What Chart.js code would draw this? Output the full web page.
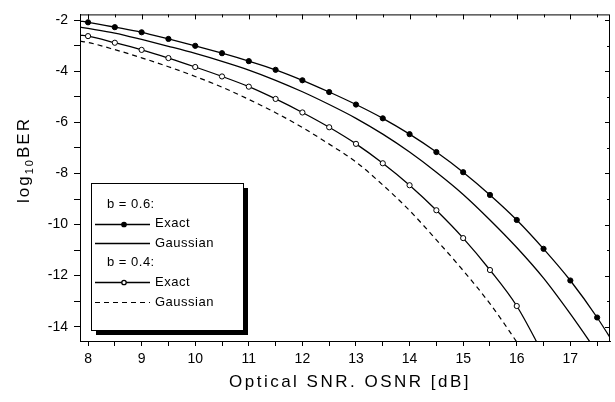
<!DOCTYPE html>
<html>
<head>
<meta charset="utf-8">
<script src="https://cdn.jsdelivr.net/npm/chart.js@4"></script>
<style>
  html, body { margin: 0; padding: 0; background: #fff; }
  canvas { display: block; }
</style>
</head>
<body>
<canvas id="berChart" width="615" height="402"></canvas>
<script>
// OSNR values (dB); first point is the left edge of the plot
const osnrDb = [7.85, 8, 8.5, 9, 9.5, 10, 10.5, 11, 11.5, 12, 12.5, 13, 13.5, 14, 14.5, 15, 15.5, 16, 16.5, 17, 17.5, 18];

// log10 BER, b = 0.6
const exact06 = [-2.03, -2.08, -2.27, -2.47, -2.73, -3.0, -3.29, -3.6, -3.94, -4.35, -4.81, -5.3, -5.84, -6.46, -7.16, -7.95, -8.84, -9.82, -10.95, -12.19, -13.64, -15.3];
const gauss06 = [-2.27, -2.32, -2.5, -2.75, -3.02, -3.3, -3.61, -3.95, -4.35, -4.8, -5.3, -5.84, -6.46, -7.16, -7.95, -8.82, -9.82, -10.9, -12.1, -13.5, -15.0, null];

// log10 BER, b = 0.4
const exact04 = [-2.58, -2.62, -2.88, -3.16, -3.48, -3.83, -4.2, -4.6, -5.08, -5.61, -6.19, -6.84, -7.6, -8.46, -9.44, -10.53, -11.78, -13.19, -15.1, null, null, null];
const gauss04 = [-2.82, -2.87, -3.15, -3.47, -3.82, -4.2, -4.62, -5.1, -5.62, -6.2, -6.85, -7.55, -8.45, -9.45, -10.6, -11.8, -13.1, -14.6, -16.2, null, null, null];

const xTicks = [8, 9, 10, 11, 12, 13, 14, 15, 16, 17];
const yTicks = [-2, -4, -6, -8, -10, -12, -14];

const xTitle = 'Optical SNR. OSNR [dB]';
const legendRows = [
  { header: 'b = 0.6:' },
  { label: 'Exact', ds: 0 },
  { label: 'Gaussian', ds: 1 },
  { header: 'b = 0.4:' },
  { label: 'Exact', ds: 2 },
  { label: 'Gaussian', ds: 3 }
];

const FONT = "'Liberation Sans', Arial, sans-serif";
Chart.defaults.font.family = FONT;
Chart.defaults.font.size = 13;
Chart.defaults.color = '#000';

function pts(ys) {
  return osnrDb.map((x, i) => ({ x: x, y: ys[i] }));
}

// only draw markers on the half-dB grid
function markerRadius(r) {
  return ctx => {
    const x = osnrDb[ctx.dataIndex];
    return Math.abs(x * 2 - Math.round(x * 2)) < 1e-6 ? r : 0;
  };
}

// frame, inner ticks on top/right, axis titles and the boxed legend
const extras = {
  id: 'extras',
  afterDraw(chart) {
    const c = chart.ctx;
    const a = chart.chartArea;
    const xs = chart.scales.x, ys = chart.scales.y;
    c.save();
    c.strokeStyle = '#000';
    c.lineWidth = 1;
    c.strokeRect(a.left + 0.5, a.top + 0.5, a.right - a.left - 1, a.bottom - a.top);

    c.beginPath();
    for (let v = 8; v <= 17.5; v += 0.5) {
      const px = Math.round(xs.getPixelForValue(v)) + 0.5;
      const len = Number.isInteger(v) ? 5 : 3;
      c.moveTo(px, a.top);
      c.lineTo(px, a.top + len);
    }
    for (let v = -2; v >= -14; v -= 1) {
      const py = Math.round(ys.getPixelForValue(v)) + 0.5;
      const len = v % 2 === 0 ? 5 : 3;
      c.moveTo(a.right, py);
      c.lineTo(a.right - len, py);
    }
    c.stroke();

    // x title, spaced out like the scan
    c.fillStyle = '#000';
    c.textBaseline = 'middle';
    c.textAlign = 'center';
    c.font = '17px ' + FONT;
    c.letterSpacing = '2.5px';
    c.fillText(xTitle, 350, 382);

    // y title with subscript
    c.translate(24, 160);
    c.rotate(-Math.PI / 2);
    c.textAlign = 'left';
    c.letterSpacing = '2px';
    c.font = '17px ' + FONT;
    const w1 = c.measureText('log').width;
    c.font = '11px ' + FONT;
    const w2 = c.measureText('10').width;
    c.font = '17px ' + FONT;
    const w3 = c.measureText('BER').width;
    const x0 = -(w1 + w2 + w3) / 2;
    c.fillText('log', x0, 0);
    c.font = '11px ' + FONT;
    c.fillText('10', x0 + w1, 6);
    c.font = '17px ' + FONT;
    c.fillText('BER', x0 + w1 + w2, 0);
    c.restore();

    // legend box with shadow
    c.save();
    const bx = 91, by = 183, bw = 152, bh = 147;
    c.fillStyle = '#000';
    c.fillRect(bx + bw, by + 5, 5, bh);
    c.fillRect(bx + 5, by + bh, bw, 5);
    c.fillStyle = '#fff';
    c.fillRect(bx, by, bw, bh);
    c.strokeStyle = '#000';
    c.lineWidth = 1;
    c.strokeRect(bx + 0.5, by + 0.5, bw, bh);
    c.font = '13px ' + FONT;
    c.letterSpacing = '0.5px';
    c.textBaseline = 'middle';
    c.fillStyle = '#000';
    legendRows.forEach((row, i) => {
      const y = 204 + i * 19.6;
      if (row.header) {
        c.fillText(row.header, 107, y);
        return;
      }
      const ds = chart.data.datasets[row.ds];
      c.save();
      c.strokeStyle = '#000';
      c.lineWidth = ds.borderWidth;
      c.setLineDash(ds.borderDash || []);
      c.beginPath();
      c.moveTo(95, Math.round(y) + 0.5);
      c.lineTo(150, Math.round(y) + 0.5);
      c.stroke();
      c.setLineDash([]);
      if (ds.legendMarker) {
        c.beginPath();
        c.arc(124, Math.round(y) + 0.5, 2.2, 0, Math.PI * 2);
        c.fillStyle = ds.pointBackgroundColor;
        c.fill();
        c.stroke();
      }
      c.restore();
      c.fillText(row.label, 155, y);
    });
    c.restore();
  }
};

new Chart(document.getElementById('berChart'), {
  type: 'line',
  data: {
    datasets: [
      {
        label: 'b = 0.6 Exact',
        data: pts(exact06),
        borderColor: '#000',
        borderWidth: 1.3,
        pointRadius: markerRadius(2.6),
        pointBackgroundColor: '#000',
        pointBorderColor: '#000',
        pointBorderWidth: 1,
        legendMarker: true
      },
      {
        label: 'b = 0.6 Gaussian',
        data: pts(gauss06),
        borderColor: '#000',
        borderWidth: 1.3,
        pointRadius: 0
      },
      {
        label: 'b = 0.4 Exact',
        data: pts(exact04),
        borderColor: '#000',
        borderWidth: 1.3,
        pointRadius: markerRadius(2.6),
        pointBackgroundColor: '#fff',
        pointBorderColor: '#000',
        pointBorderWidth: 1,
        legendMarker: true
      },
      {
        label: 'b = 0.4 Gaussian',
        data: pts(gauss04),
        borderColor: '#000',
        borderWidth: 1.2,
        borderDash: [5, 4],
        pointRadius: 0
      }
    ]
  },
  options: {
    responsive: false,
    animation: false,
    cubicInterpolationMode: 'monotone',
    layout: { padding: { top: 7, right: 2, left: 0, bottom: 0 } },
    plugins: {
      legend: { display: false },
      tooltip: { enabled: false }
    },
    scales: {
      x: {
        type: 'linear',
        min: 7.85,
        max: 17.74,
        afterFit: s => { s.height = 61; },
        afterBuildTicks: s => { s.ticks = []; for (let v = 8; v <= 17.5; v += 0.5) s.ticks.push({ value: v }); },
        border: { color: '#000', width: 1 },
        grid: { drawOnChartArea: false, tickLength: 5, tickColor: '#000' },
        ticks: {
          padding: 5,
          maxRotation: 0,
          autoSkip: false,
          font: { size: 14 },
          callback: v => xTicks.includes(v) ? String(v) : ''
        }
      },
      y: {
        type: 'linear',
        min: -14.56,
        max: -1.77,
        afterFit: s => { s.width = 80; },
        afterBuildTicks: s => { s.ticks = []; for (let v = -2; v >= -14; v -= 1) s.ticks.push({ value: v }); },
        border: { color: '#000', width: 1 },
        grid: { drawOnChartArea: false, tickLength: 6, tickColor: '#000' },
        ticks: {
          padding: 6,
          autoSkip: false,
          font: { size: 14 },
          callback: v => yTicks.includes(v) ? String(v) : ''
        }
      }
    }
  },
  plugins: [extras]
});
</script>
</body>
</html>
